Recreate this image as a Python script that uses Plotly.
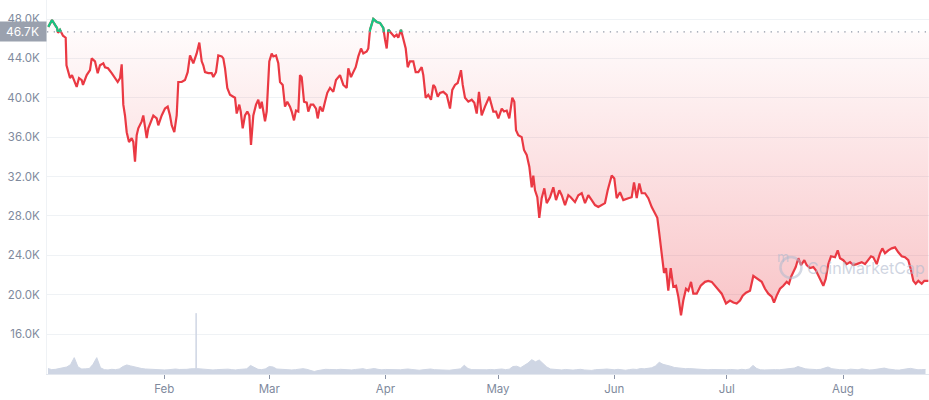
import pandas as pd
import plotly.graph_objects as go

# ---------------- data ----------------
START = "2022-01-01"
BASELINE_K = 46.7  # reference price (thousands USD)

# price samples: day offset from START, price in thousands USD
price_days = [
    0.08, 1.07, 1.87, 2.4, 2.67, 3.2, 4.0, 4.72, 4.93, 5.87, 6.4, 6.93, 7.65, 8.27, 8.99, 9.33,
    10.32, 11.2, 11.65, 12.53, 13.25, 13.87, 14.75, 15.2, 16.0, 16.99, 17.87, 18.59, 19.2, 19.65,
    20.08, 20.53, 20.99, 21.6, 22.32, 22.75, 23.2, 23.65, 24.08, 24.99, 25.41, 25.87, 26.32, 26.75,
    27.65, 28.08, 28.99, 29.41, 30.32, 31.2, 31.92, 32.53, 32.99, 33.68, 34.32, 34.75, 35.65, 36.53,
    37.25, 37.87, 38.75, 39.65, 40.35, 40.99, 41.41, 41.87, 42.75, 43.65, 44.08, 44.8, 45.41, 46.32,
    46.75, 47.2, 47.81, 48.53, 49.41, 49.87, 50.32, 51.01, 51.39, 51.92, 52.53, 53.15, 53.68, 54.13,
    54.75, 55.47, 56.08, 56.53, 56.99, 57.41, 57.87, 58.32, 59.01, 59.65, 60.08, 60.8, 61.41, 61.87,
    62.59, 63.2, 63.81, 64.53, 64.99, 65.6, 66.13, 66.75, 67.2, 67.65, 68.27, 68.99, 69.41, 70.05,
    70.75, 71.47, 71.92, 72.53, 73.25, 73.87, 74.48, 75.2, 76.08, 76.8, 77.87, 78.75, 79.65, 80.08,
    80.8, 81.41, 82.05, 82.75, 83.47, 84.08, 84.99, 85.41, 85.87, 86.75, 87.65, 88.53, 89.41, 89.87,
    90.32, 90.75, 91.47, 92.35, 92.99, 93.41, 94.13, 94.75, 95.39, 95.92, 96.53, 97.41, 98.05, 98.75,
    99.65, 100.08, 100.72, 101.41, 102.13, 102.75, 103.2, 103.92, 104.53, 105.41, 106.32, 107.2,
    107.81, 108.53, 109.25, 109.6, 110.13, 110.59, 111.2, 112.08, 112.99, 113.68, 114.32, 114.93,
    115.65, 116.53, 117.68, 118.75, 119.47, 120.08, 120.99, 121.6, 122.32, 123.01, 123.81, 124.35,
    124.8, 125.41, 126.32, 126.93, 127.65, 128.35, 128.99, 129.41, 129.87, 130.48, 131.01, 131.65,
    132.35, 132.99, 133.87, 134.75, 135.47, 136.35, 136.99, 137.87, 138.75, 139.39, 140.53, 141.41,
    142.32, 143.2, 144.08, 144.99, 145.87, 146.75, 147.65, 148.53, 149.25, 150.32, 151.01, 151.65,
    152.53, 153.41, 154.75, 155.65, 156.27, 156.99, 157.68, 158.32, 159.2, 160.08, 160.99, 161.87,
    162.48, 163.01, 163.65, 164.27, 164.8, 165.41, 166.05, 166.75, 167.47, 168.08, 168.8, 169.41,
    170.13, 170.75, 171.47, 172.08, 172.99, 174.05, 175.2, 176.08, 176.99, 177.87, 178.75, 179.65,
    180.8, 181.87, 182.75, 183.65, 184.53, 185.25, 186.13, 187.2, 188.08, 189.15, 190.32, 191.2,
    192.08, 192.99, 193.6, 194.32, 195.2, 196.08, 196.99, 197.6, 198.13, 198.75, 199.39, 200.08,
    200.8, 201.68, 202.32, 203.2, 204.08, 204.72, 205.41, 206.13, 206.75, 207.39, 208.08, 208.8,
    209.87, 210.59, 211.2, 212.08, 212.99, 213.87, 214.75, 215.65, 216.99, 217.87, 218.75, 219.47,
    220.08, 220.99, 221.87, 222.48, 223.2, 224.08, 224.99, 225.87, 226.75, 227.65, 228.53, 229.41,
    230.13, 230.75, 231.39, 232.08, 232.99, 233.68, 234.75,
]
price_k = [
    47.2, 47.9, 47.4, 47.1, 46.6, 46.9, 46.3, 46.1, 43.3, 42.0, 42.3, 41.8, 41.1, 42.0, 41.8, 41.3,
    42.3, 42.8, 44.0, 43.7, 42.5, 43.3, 43.5, 43.1, 43.0, 42.5, 42.0, 41.6, 42.0, 43.4,
    39.3, 38.2, 36.5, 35.5, 35.9, 35.5, 33.5, 36.2, 36.9, 37.6, 38.2, 36.9, 35.9, 36.9,
    37.7, 38.2, 37.9, 37.2, 38.2, 38.9, 39.1, 38.2, 37.2, 36.5, 38.2, 41.6, 41.6, 41.8,
    42.6, 44.3, 43.5, 44.5, 45.6, 43.7, 43.3, 42.6, 42.5, 42.5, 42.1, 42.6, 44.3, 44.2,
    44.0, 43.0, 41.0, 40.3, 40.1, 40.0, 38.4, 39.3, 38.6, 36.9, 38.2, 38.6, 38.2, 35.2,
    38.2, 39.3, 39.8, 38.9, 39.6, 38.6, 37.6, 38.6, 43.7, 44.5, 44.2, 44.3, 43.5, 41.6,
    41.3, 39.1, 39.6, 39.1, 38.6, 37.7, 38.7, 38.6, 42.3, 42.1, 39.6, 39.5, 38.6, 39.3,
    39.3, 38.9, 37.9, 39.1, 38.6, 39.6, 40.5, 41.0, 40.6, 41.8, 42.3, 41.3, 41.0, 43.0,
    42.1, 42.6, 43.1, 44.2, 45.0, 44.5, 44.7, 45.0, 46.9, 48.0, 47.7, 47.6, 47.1, 45.9,
    45.0, 46.9, 46.6, 46.2, 46.4, 46.1, 46.9, 45.9, 45.0, 43.1, 43.7, 43.7, 42.6, 42.6,
    43.1, 42.3, 40.0, 40.3, 39.8, 41.3, 41.1, 40.1, 40.5, 40.6, 40.3, 38.9,
    40.8, 41.3, 41.5, 42.0, 42.8, 41.3, 40.0, 39.6, 39.8, 39.5, 38.4, 40.6,
    38.2, 39.1, 40.1, 38.6, 38.6, 37.9, 38.9, 38.6, 38.7, 37.9, 40.0, 39.6,
    36.7, 36.2, 36.0, 34.7, 34.2, 33.0, 30.9, 32.1, 30.6, 29.9, 27.8, 29.8,
    30.8, 29.3, 29.9, 30.9, 29.6, 30.6, 30.1, 29.1, 30.1, 29.9, 29.4, 30.1,
    30.3, 29.3, 30.1, 29.6, 29.1, 28.9, 29.1, 29.3, 30.6, 32.1, 31.8, 29.8,
    30.4, 29.6, 29.8, 29.9, 31.4, 29.8, 31.3, 30.3, 30.3, 29.8, 28.9, 28.3,
    27.8, 26.2, 23.8, 22.2, 22.7, 20.4, 22.7, 20.8, 20.9, 19.8, 17.9, 19.4,
    20.6, 20.4, 21.3, 20.1, 20.1, 20.9, 21.3, 21.4, 21.3, 20.9, 20.4, 20.1,
    19.1, 19.4, 19.2, 19.1, 19.4, 19.9, 20.2, 20.4, 21.9, 21.6, 21.3, 20.6,
    20.1, 19.8, 19.2, 19.9, 20.6, 20.9, 21.3, 21.1, 21.8, 22.3, 22.8, 23.7,
    23.0, 23.5, 23.0, 22.7, 22.8, 22.5, 21.9, 21.4, 20.9, 21.6, 23.1, 23.9,
    23.8, 24.5, 23.7, 23.5, 23.1, 23.3, 23.0, 23.1, 23.3, 23.1, 23.5, 23.9,
    23.8, 23.1, 24.2, 24.7, 24.2, 24.5, 24.7, 24.8, 24.3, 23.9, 23.8, 23.5,
    22.5, 21.4, 21.1, 21.4, 21.1, 21.4, 21.4,
]

# daily volume (billions USD), one value per day starting at START
volume_b = [
    35, 28, 30, 35, 38, 45, 60, 105, 45, 32, 33, 35, 62, 105, 40, 28, 26, 30, 28, 32,
    48, 58, 52, 45, 38, 35, 32, 30, 28, 27, 28, 26, 27, 30, 32, 29, 28, 30, 33, 34,
    34, 32, 30, 27, 26, 28, 30, 29, 31, 28, 26, 29, 30, 33, 55, 40, 30, 28, 33, 48,
    45, 32, 30, 28, 27, 26, 28, 30, 34, 30, 25, 16, 22, 28, 30, 29, 27, 28, 30, 28,
    27, 26, 29, 31, 34, 28, 33, 35, 30, 27, 29, 28, 26, 25, 27, 30, 32, 29, 26, 24,
    27, 30, 32, 28, 26, 25, 22, 24, 27, 30, 33, 56, 35, 28, 27, 26, 25, 27, 29, 27,
    30, 32, 28, 31, 48, 50, 40, 55, 70, 92, 78, 90, 65, 45, 32, 30, 28, 26, 29, 27,
    25, 28, 30, 26, 25, 23, 28, 31, 30, 32, 28, 27, 30, 26, 24, 28, 31, 29, 35, 33,
    36, 40, 52, 75, 62, 58, 50, 42, 38, 36, 34, 35, 33, 32, 31, 28, 27, 29, 28, 26,
    25, 27, 29, 28, 26, 30, 27, 32, 55, 35, 27, 26, 28, 30, 28, 27, 29, 30, 32, 38,
    48, 40, 33, 31, 29, 28, 30, 38, 45, 34, 30, 28, 27, 26, 31, 29, 27, 33, 28, 26,
    27, 30, 35, 38, 32, 28, 26, 25, 27, 33, 36, 30, 27, 28, 29,
]
# one very short volume spike (a single hourly print)
spike_day = 39.5
spike_b = 390

month_ticks = ["2022-02-01", "2022-03-01", "2022-04-01", "2022-05-01",
               "2022-06-01", "2022-07-01", "2022-08-01"]
month_labels = ["Feb", "Mar", "Apr", "May", "Jun", "Jul", "Aug"]
price_ticks_k = [16, 20, 24, 28, 32, 36, 40, 44, 48]

# ---------------- build ----------------
t0 = pd.Timestamp(START)
to_time = lambda d: t0 + pd.to_timedelta(d, unit="D")
price_x = [to_time(d) for d in price_days]

# volume series with the narrow spike inserted
vd, vv = [], []
for i, v in enumerate(volume_b):
    if i - 1 < spike_day < i:
        base_v = volume_b[i - 1] + (volume_b[i] - volume_b[i - 1]) * (spike_day - (i - 1))
        vd += [spike_day - 0.04, spike_day, spike_day + 0.04]
        vv += [base_v, spike_b, base_v]
    vd.append(i)
    vv.append(v)
vol_x = [to_time(d) for d in vd]

# green segments above the baseline (with crossing points inserted)
gx, gy = [], []
for i in range(len(price_k)):
    d0, p0 = price_days[i], price_k[i]
    gx.append(to_time(d0))
    gy.append(p0 if p0 >= BASELINE_K else None)
    if i + 1 < len(price_k):
        d1, p1 = price_days[i + 1], price_k[i + 1]
        if (p0 - BASELINE_K) * (p1 - BASELINE_K) < 0:
            dc = d0 + (BASELINE_K - p0) / (p1 - p0) * (d1 - d0)
            gx.append(to_time(dc))
            gy.append(BASELINE_K)

RED = "#ea3943"
GREEN = "#16c784"
LABEL = "#808a9d"
GRID = "#eff2f5"

x_start = t0 - pd.Timedelta(hours=6.4)
x_end = t0 + pd.Timedelta(days=234.93)

fig = go.Figure()

fig.add_trace(go.Scatter(
    x=vol_x, y=vv, yaxis="y2", mode="lines",
    line=dict(color="#cfd6e4", width=1, shape="linear"),
    fill="tozeroy", fillcolor="#cfd6e4", hoverinfo="skip", showlegend=False))

fig.add_trace(go.Scatter(
    x=[x_start, x_end], y=[BASELINE_K, BASELINE_K], mode="lines",
    line=dict(width=0, color="rgba(0,0,0,0)"), hoverinfo="skip", showlegend=False))

fig.add_trace(go.Scatter(
    x=price_x, y=price_k, mode="lines",
    line=dict(color=RED, width=2.2),
    fill="tonexty",
    fillgradient=dict(type="vertical",
                      colorscale=[[0, "rgba(234,57,67,0.30)"], [1, "rgba(234,57,67,0.02)"]],
                      start=17.5, stop=BASELINE_K),
    hoverinfo="skip", showlegend=False))

fig.add_trace(go.Scatter(
    x=gx, y=gy, mode="lines", line=dict(color=GREEN, width=2.2),
    connectgaps=False, hoverinfo="skip", showlegend=False))

# dotted baseline
fig.add_shape(type="line", xref="paper", x0=0, x1=1, yref="y", y0=BASELINE_K, y1=BASELINE_K,
              layer="above", line=dict(color="#8f97a6", width=1.3, dash="1.3px,5.4px"))

# baseline label
fig.add_annotation(xref="paper", x=0, xanchor="right", yref="y", y=BASELINE_K, yanchor="middle",
                   text="46.7K", showarrow=False, bgcolor="#9aa1ae",
                   font=dict(family="Inter", size=12, color="white"),
                   width=43, height=15, borderpad=2, align="center")

# watermark
fig.add_shape(type="circle", xref="paper", yref="paper",
              x0=0.8316, x1=0.8554, y0=0.2567, y1=0.3128,
              line=dict(color="rgba(175,185,205,0.55)", width=2.5))
fig.add_annotation(xref="paper", yref="paper", x=0.8435, y=0.2848, text="m", showarrow=False,
                   font=dict(family="Inter", size=14, color="rgba(175,185,205,0.6)"))
fig.add_annotation(xref="paper", yref="paper", x=0.9286, y=0.2834, text="CoinMarketCap",
                   showarrow=False, xanchor="center", yanchor="middle",
                   font=dict(family="Inter", size=16, color="rgba(175,185,205,0.6)"))

fig.update_layout(
    width=929, height=400,
    margin=dict(l=47, r=0, t=0, b=26),
    paper_bgcolor="white", plot_bgcolor="white",
    xaxis=dict(type="date", range=[x_start, x_end],
               tickvals=[pd.Timestamp(m) for m in month_ticks], ticktext=month_labels,
               showgrid=False, zeroline=False,
               showline=True, linecolor="#e3e7ee", linewidth=1,
               ticks="outside", ticklen=4, tickcolor="#8a93a6", tickwidth=1,
               tickfont=dict(family="Inter", size=11.5, color=LABEL)),
    yaxis=dict(range=[11.94, 49.93],
               tickvals=price_ticks_k, ticktext=[f"{v:.1f}K" for v in price_ticks_k],
               showgrid=True, gridcolor=GRID, gridwidth=1, zeroline=False,
               showline=True, linecolor=GRID, linewidth=1,
               ticks="", ticklabelstandoff=4,
               tickfont=dict(family="Inter", size=11.5, color=LABEL)),
    yaxis2=dict(overlaying="y", range=[0, 2400], visible=False),
)

fig.write_html("out.html", config={"displayModeBar": False},
               post_script="document.body.style.margin='0';")
